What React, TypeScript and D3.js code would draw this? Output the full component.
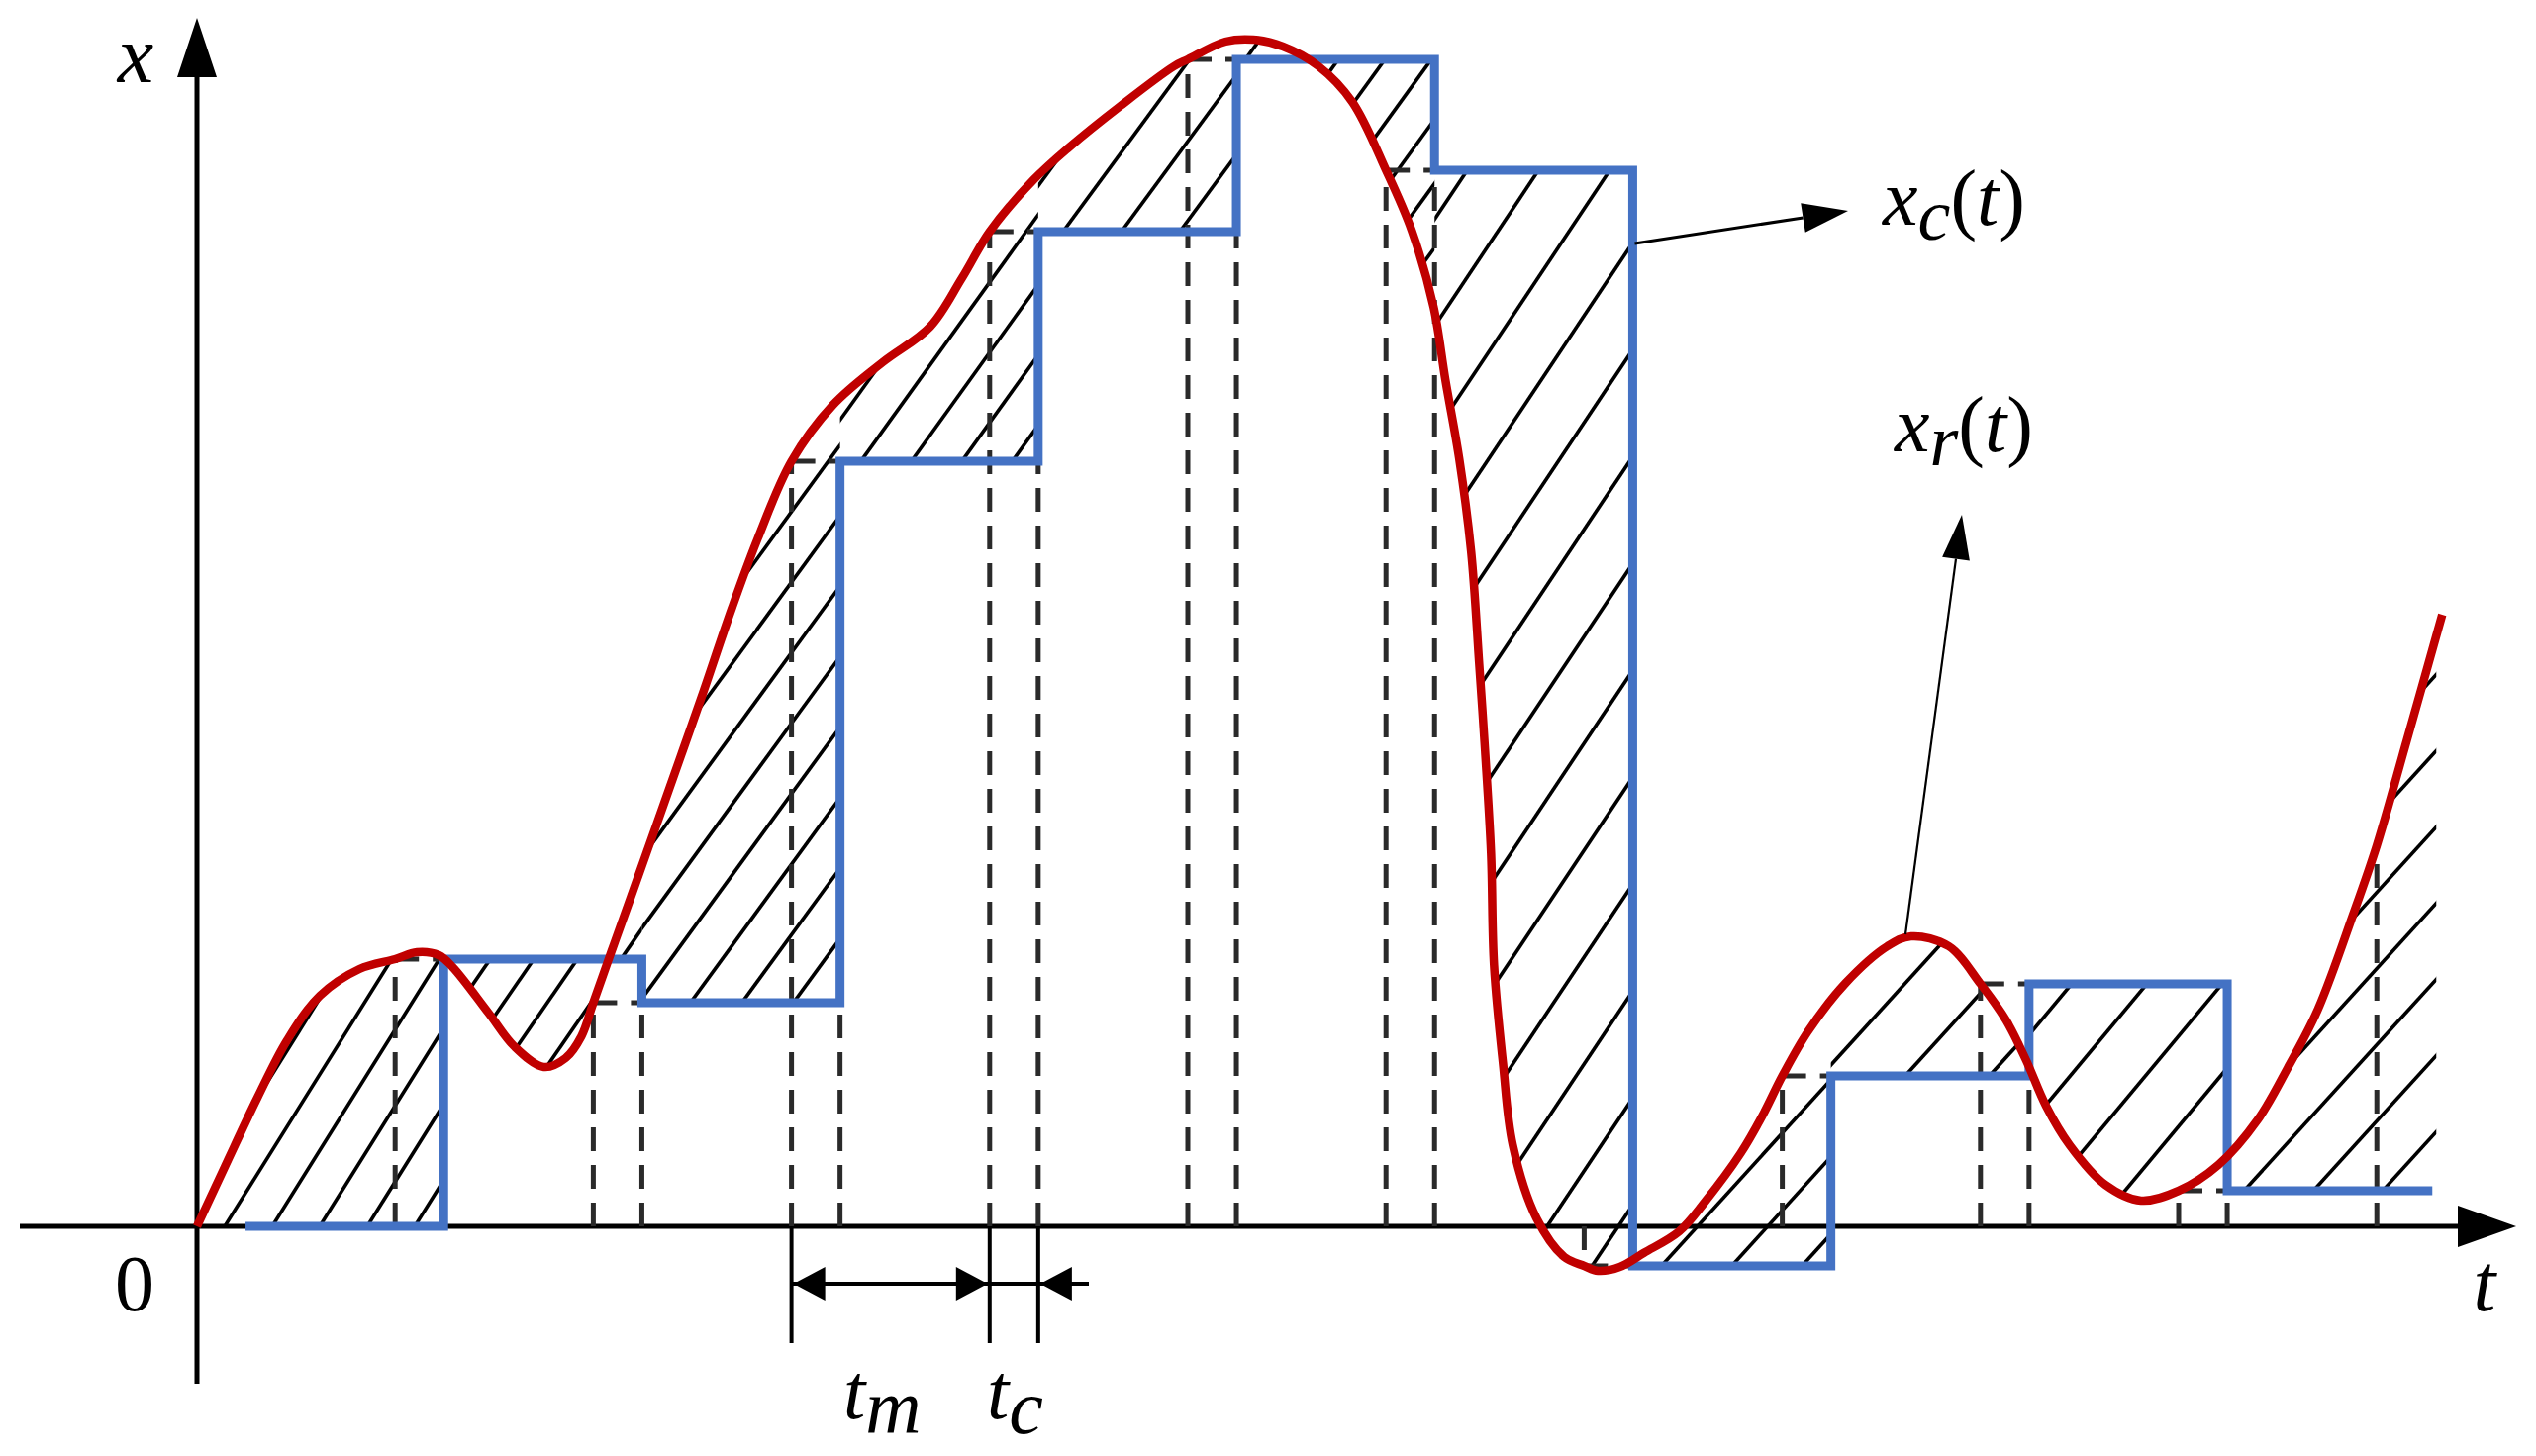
import React from 'react';
import * as d3 from 'd3';

const W = 2562;
const H = 1471;

// ---- data (time t in sampling periods, value x in arbitrary units) ----
// continuous signal x_c(t) (red)
const curveT = [
  0, 0.14, 0.305, 0.455, 0.62, 0.82, 1.0, 1.11, 1.22, 1.29, 1.47, 1.6, 1.75, 1.86, 1.94, 2.0,
  2.09, 2.19, 2.33, 2.45, 2.55, 2.7, 2.83, 3.0, 3.21, 3.46, 3.7, 3.86, 4.0, 4.22, 4.4, 4.66,
  4.93, 5.0, 5.19, 5.33, 5.48, 5.66, 5.83, 6.0, 6.13, 6.24, 6.3, 6.37, 6.43, 6.47, 6.5, 6.53,
  6.545, 6.59, 6.64, 6.76, 6.9, 7.0, 7.07, 7.18, 7.3, 7.48, 7.61, 7.79, 7.9, 8.0, 8.13, 8.32,
  8.53, 8.65, 8.84, 9.0, 9.13, 9.23, 9.33, 9.45, 9.63, 9.81, 10.0, 10.2, 10.4, 10.55, 10.7,
  10.88, 11.0, 11.15, 11.33,
];
const curveX = [
  0, 0.6, 1.3, 1.88, 2.33, 2.6, 2.7, 2.77, 2.74, 2.62, 2.16, 1.82, 1.61, 1.7, 1.92, 2.26,
  2.77, 3.33, 4.12, 4.8, 5.37, 6.25, 6.95, 7.73, 8.3, 8.73, 9.09, 9.58, 10.05, 10.57, 10.9, 11.32,
  11.72, 11.79, 11.97, 11.99, 11.92, 11.72, 11.36, 10.67, 10.06, 9.29, 8.55, 7.75, 6.81, 5.69, 4.8, 3.77,
  2.64, 1.65, 0.82, 0.08, -0.31, -0.4, -0.45, -0.41, -0.27, -0.05, 0.25, 0.74, 1.12, 1.52, 1.97, 2.46,
  2.83, 2.93, 2.83, 2.45, 2.08, 1.68, 1.22, 0.82, 0.42, 0.26, 0.36, 0.62, 1.08, 1.6, 2.18,
  3.15, 3.85, 4.9, 6.18,
];

// sampling instants and sampled values (held by x_r(t), blue)
const sampleTimes = [1, 2, 3, 4, 5, 6, 7, 8, 9, 10, 11];
const sampleValues = [2.7, 2.26, 7.73, 10.05, 11.79, 10.67, -0.4, 1.52, 2.45, 0.36, 3.85];
const computeDelay = 0.245; // t_c
const stepEndT = 11.28;
const hatchEndT = 11.3;

// hatch styling per interval (horizontal gap px, slope, anchor time)
const hatchGap = [48, 44, 52, 51, 59, 47, 72, 71, 85, 76, 70];
const hatchSlope = [1.6, 1.45, 1.37, 1.39, 1.36, 1.38, 1.5, 1.1, 1.1, 1.2, 1.1];
const hatchAnchorT = [0.14, 1.48, 2.49, 3.35, 4.37, 5.76, 6.41, 7.39, 8.62, 9.46, 10.33];

// ---- scales ----
const xScale = d3.scaleLinear().domain([0, 12]).range([199, 199 + 12 * 200.2]);
const yScale = d3.scaleLinear().domain([0, 12]).range([1239, 39]);

const RED = '#C00000';
const BLUE = '#4472C4';
const FONT = '"Liberation Serif", "DejaVu Serif", serif';

function head(tx: number, ty: number, fx: number, fy: number, len: number, half: number) {
  const dx = tx - fx;
  const dy = ty - fy;
  const d = Math.hypot(dx, dy);
  const ux = dx / d;
  const uy = dy / d;
  const bx = tx - ux * len;
  const by = ty - uy * len;
  const px = -uy * half;
  const py = ux * half;
  return {
    points: `${tx},${ty} ${bx + px},${by + py} ${bx - px},${by - py}`,
    bx,
    by,
  };
}

function Arrow({ x1, y1, x2, y2, len, half, width }: any) {
  const h = head(x2, y2, x1, y1, len, half);
  return (
    <g>
      <line x1={x1} y1={y1} x2={h.bx} y2={h.by} stroke="#000" strokeWidth={width} />
      <polygon points={h.points} fill="#000" />
    </g>
  );
}

export default function App() {
  const redPts: [number, number][] = curveT.map((t, i) => [t, curveX[i]]);
  const redLine = d3
    .line<[number, number]>()
    .x((d) => xScale(d[0]))
    .y((d) => yScale(d[1]))
    .curve(d3.curveCatmullRom.alpha(0.5));
  const redPath = redLine(redPts) || '';

  // held levels: level[k] is held on [k + tc, k + 1 + tc]
  const levels = [0, ...sampleValues.slice(0, 10)];
  const stepPts: [number, number][] = levels.map((v, k) => [k + computeDelay, v]);
  stepPts.push([stepEndT, levels[10]]);
  const stepLine = d3
    .line<[number, number]>()
    .x((d) => xScale(d[0]))
    .y((d) => yScale(d[1]))
    .curve(d3.curveStepAfter);
  const bluePath = stepLine(stepPts) || '';

  // area between curve and held signal
  const lastT = curveT[curveT.length - 1];
  const back: [number, number][] = [[lastT, levels[10]]];
  for (let k = 10; k >= 1; k--) {
    back.push([k + computeDelay, levels[k]]);
    back.push([k + computeDelay, levels[k - 1]]);
  }
  back.push([0, 0]);
  const areaPath =
    redPath + back.map((p) => `L${xScale(p[0])},${yScale(p[1])}`).join('') + 'Z';

  const regions = levels.map((lv, k) => ({
    left: k === 0 ? 0 : k + computeDelay,
    right: k === 10 ? hatchEndT : k + 1 + computeDelay,
    level: lv,
  }));

  const hatchGroups = regions.map((r, k) => {
    const xL = xScale(r.left);
    const xR = xScale(r.right);
    const yb = yScale(r.level);
    const x0 = xScale(hatchAnchorT[k]);
    const s = hatchSlope[k];
    const h = hatchGap[k];
    const nMin = Math.ceil((xL - x0 - yb / s) / h) - 1;
    const nMax = Math.floor((xR - x0 - (yb - H) / s) / h) + 1;
    const lines: any[] = [];
    for (let n = nMin; n <= nMax; n++) {
      const xb = x0 + n * h;
      lines.push({ x1: xb + (yb - H) / s, y1: H, x2: xb + yb / s, y2: 0 });
    }
    return { k, xL, xR, lines };
  });

  // dashed guides
  const dashV: any[] = [];
  const dashH: any[] = [];
  sampleTimes.forEach((t, i) => {
    const v = sampleValues[i];
    dashV.push({ x: xScale(t), y1: yScale(0), y2: yScale(v) });
    if (i < 10) {
      dashH.push({ x1: xScale(t), x2: xScale(t + computeDelay), y: yScale(v) });
      const prev = levels[i];
      const lo = Math.min(prev, v);
      const hi = Math.max(prev, v);
      let end: number | null = null;
      if (lo > 0) end = lo;
      else if (hi < 0) end = hi;
      if (end !== null) {
        dashV.push({ x: xScale(t + computeDelay), y1: yScale(0), y2: yScale(end) });
      }
    }
  });

  const y0 = yScale(0);
  const ax = xScale(0);
  const yAxisHead = head(ax, 18, ax, 1398, 60, 20);
  const xAxisHead = head(2542, y0, 20, y0, 59, 21);

  // dimension markers
  const dA = xScale(3);
  const dB = xScale(4);
  const dC = xScale(4 + computeDelay);
  const dimY = 1297;
  const h1 = head(dA + 2, dimY, dA + 40, dimY, 32, 17);
  const h2 = head(dB - 2, dimY, dB - 40, dimY, 32, 17);
  const h3 = head(dC + 2, dimY, dC + 40, dimY, 32, 17);

  return (
    <svg
      width={W}
      height={H}
      style={{ position: 'absolute', left: 0, top: 0, display: 'block' }}
    >
      <defs>
        <clipPath id="hatch-area">
          <path d={areaPath} />
        </clipPath>
        {hatchGroups.map((g) => (
          <clipPath id={`hreg-${g.k}`} key={g.k}>
            <rect x={g.xL} y={0} width={g.xR - g.xL} height={H} />
          </clipPath>
        ))}
      </defs>
      <rect x={0} y={0} width={W} height={H} fill="#fff" />

      {/* axes */}
      <line x1={ax} y1={1398} x2={ax} y2={yAxisHead.by} stroke="#000" strokeWidth={5} />
      <polygon points={yAxisHead.points} fill="#000" />
      <line x1={20} y1={y0} x2={xAxisHead.bx} y2={y0} stroke="#000" strokeWidth={5} />
      <polygon points={xAxisHead.points} fill="#000" />

      {/* hatching */}
      <g clipPath="url(#hatch-area)">
        {hatchGroups.map((g) => (
          <g key={g.k} clipPath={`url(#hreg-${g.k})`}>
            {g.lines.map((l: any, i: number) => (
              <line key={i} x1={l.x1} y1={l.y1} x2={l.x2} y2={l.y2} stroke="#000" strokeWidth={3.6} />
            ))}
          </g>
        ))}
      </g>

      {/* dashed guides */}
      <g stroke="#2a2a2a" strokeWidth={5} strokeDasharray="24 14" fill="none">
        {dashV.map((d, i) => (
          <line key={`v${i}`} x1={d.x} y1={d.y1} x2={d.x} y2={d.y2} />
        ))}
        {dashH.map((d, i) => (
          <line key={`h${i}`} x1={d.x1} y1={d.y} x2={d.x2} y2={d.y} />
        ))}
      </g>

      {/* held signal */}
      <path d={bluePath} fill="none" stroke={BLUE} strokeWidth={9} strokeLinejoin="miter" />
      {/* continuous signal */}
      <path d={redPath} fill="none" stroke={RED} strokeWidth={8.5} strokeLinejoin="round" />

      {/* dimension lines t_m, t_c */}
      <g stroke="#000" strokeWidth={4}>
        <line x1={dA} y1={y0} x2={dA} y2={1357} />
        <line x1={dB} y1={y0} x2={dB} y2={1357} />
        <line x1={dC} y1={y0} x2={dC} y2={1357} />
        <line x1={dA} y1={dimY} x2={1100} y2={dimY} />
      </g>
      <polygon points={h1.points} fill="#000" />
      <polygon points={h2.points} fill="#000" />
      <polygon points={h3.points} fill="#000" />

      {/* callout arrows */}
      <Arrow x1={xScale(7.245) + 2} y1={246} x2={1867} y2={213} len={46} half={15} width={3} />
      <Arrow x1={1925} y1={944} x2={1982} y2={520} len={45} half={14} width={2.2} />

      {/* labels */}
      <g fontFamily={FONT} fill="#000">
        <text x={137} y={83} fontSize={82} fontStyle="italic" textAnchor="middle">x</text>
        <text x={136} y={1324} fontSize={80} textAnchor="middle">0</text>
        <text x={2510} y={1324} fontSize={82} fontStyle="italic" textAnchor="middle">t</text>
        <text x={1902} y={227} fontSize={80}>
          <tspan fontStyle="italic">x</tspan>
          <tspan fontStyle="italic" fontSize={74} dy={15}>c</tspan>
          <tspan dy={-15}>(</tspan>
          <tspan fontStyle="italic">t</tspan>
          <tspan>)</tspan>
        </text>
        <text x={1914} y={456} fontSize={80}>
          <tspan fontStyle="italic">x</tspan>
          <tspan fontStyle="italic" fontSize={74} dy={14}>r</tspan>
          <tspan dy={-14}>(</tspan>
          <tspan fontStyle="italic">t</tspan>
          <tspan>)</tspan>
        </text>
        <text x={852} y={1433} fontSize={80}>
          <tspan fontStyle="italic">t</tspan>
          <tspan fontStyle="italic" fontSize={78} dy={15}>m</tspan>
        </text>
        <text x={997} y={1433} fontSize={80}>
          <tspan fontStyle="italic">t</tspan>
          <tspan fontStyle="italic" fontSize={78} dy={15}>c</tspan>
        </text>
      </g>
    </svg>
  );
}
